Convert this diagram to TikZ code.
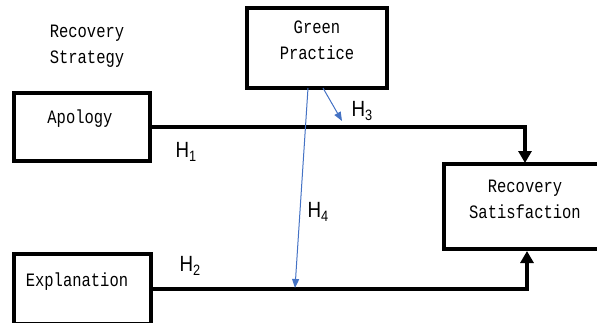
\documentclass[tikz,border=0pt]{standalone}
\usepackage{fontspec}
\usepackage{graphicx}
\setmainfont{Liberation Sans}
\newfontfamily\boxfont{Liberation Mono}
\usetikzlibrary{arrows.meta,calc}
\definecolor{hblue}{RGB}{68,114,196}
\newcommand{\hyp}[1]{\scalebox{0.85}[1]{\fontsize{22}{22}\selectfont H\raisebox{-4pt}{\fontsize{15}{15}\selectfont #1}}}
\newcommand{\vt}[1]{\scalebox{1}[1.22]{\boxfont\fontsize{15.5}{21.3}\selectfont\begin{tabular}{@{}c@{}}#1\end{tabular}}}
\begin{document}
\begin{tikzpicture}[x=1pt,y=-1pt,
  varbox/.style={draw=black,line width=3.5pt,inner sep=0pt,outer sep=0pt,fill=white},
  vartext/.style={inner sep=0pt},
  hlabel/.style={inner sep=0pt},
  mainarrow/.style={line width=4.5pt,-{Triangle[width=13pt,length=12pt]}},
  bluearrow/.style={draw=hblue,line width=1pt,-{Triangle[width=7pt,length=9pt]}}]
\useasboundingbox (0,0) rectangle (597,322);
\clip (0,0) rectangle (597,322);
% boxes
\node[varbox,minimum width=140pt,minimum height=80pt] (gp) at (317,48) {};
\node[varbox,minimum width=136pt,minimum height=68pt] (apology) at (82,127) {};
\node[varbox,minimum width=137pt,minimum height=70pt] (explanation) at (82.5,289) {};
\node[varbox,minimum width=166pt,minimum height=85pt] (rs) at (527,206.5) {};
% texts
\node[vartext] (strat) at (87,45) {\vt{Recovery\\Strategy}};
\node[vartext] (gptext) at (317,41) {\vt{Green\\Practice}};
\node[vartext] (aptext) at (80,118) {\vt{Apology}};
\node[vartext] (extext) at (77,281) {\vt{Explanation}};
\node[vartext] (rstext) at (525,200) {\vt{Recovery\\Satisfaction}};
% connector ends
\coordinate (h1end) at (525,163);
\coordinate (h2end) at (527,251);
\coordinate (h4start) at (308,88);
\coordinate (h4end) at (295,288);
\coordinate (h3start) at (323,88);
\coordinate (h3end) at (342,121);
% connectors
\draw[mainarrow] (apology.east) -| (h1end);
\draw[mainarrow] (explanation.east) -| (h2end);
\draw[bluearrow] (h4start) -- (h4end);
\draw[bluearrow] (h3start) -- (h3end);
% hypothesis labels
\node[hlabel] (H1) at (186,152) {\hyp{1}};
\node[hlabel] (H2) at (190,266) {\hyp{2}};
\node[hlabel] (H3) at (362,111) {\hyp{3}};
\node[hlabel] (H4) at (318,212) {\hyp{4}};
\end{tikzpicture}
\end{document}
